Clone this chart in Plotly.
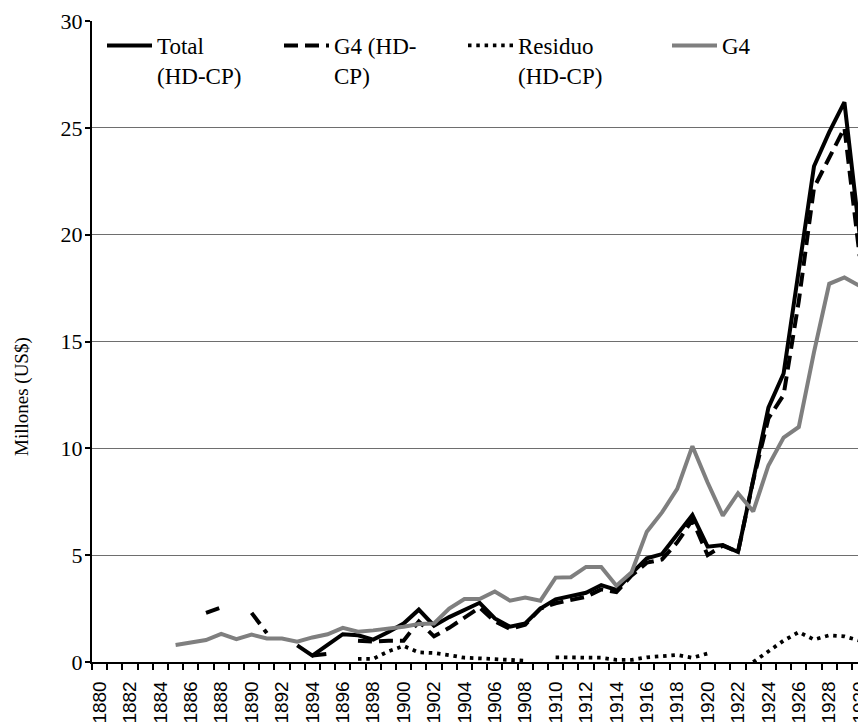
import plotly.graph_objects as go

years = list(range(1880, 1931))

total_hdcp = [None]*13 + [
    0.78, 0.30, 0.80, 1.30, 1.25, 1.05, 1.40, 1.80, 2.45, 1.70,   # 1893-1902
    2.10, 2.43, 2.77, 2.04, 1.65, 1.81, 2.50, 2.93, 3.08, 3.24,   # 1903-1912
    3.60, 3.37, 4.15, 4.85, 5.05, 5.95, 6.88, 5.40, 5.47, 5.15,   # 1913-1922
    8.50, 11.9, 13.5, 18.3, 23.2, 24.8, 26.2, 20.0]               # 1923-1930

g4_hdcp = [None]*7 + [
    2.30, 2.55, None, 2.30, 1.35, None, None,                     # 1887-1893
    0.30, 0.38, None, 1.00, 0.95, 1.00, 1.00, 1.90, 1.20,         # 1894-1902
    1.60, 2.10, 2.55, 1.90, 1.55, 1.75, 2.50, 2.75, 2.90, 3.05,   # 1903-1912
    3.40, 3.27, 4.05, 4.65, 4.80, 5.60, 6.65, 5.00, 5.45, 5.15,   # 1913-1922
    8.50, 11.4, 12.5, 16.9, 22.2, 23.6, 25.0, 19.0]               # 1923-1930

residuo_hdcp = [None]*17 + [
    0.15, 0.15, 0.50, 0.75, 0.45, 0.42,                           # 1897-1902
    0.32, 0.20, 0.17, 0.12, 0.10, 0.06, None, 0.22, 0.20, 0.20,   # 1903-1912
    0.20, 0.10, 0.10, 0.22, 0.28, 0.33, 0.20, 0.40, None, None,   # 1913-1922
    0.00, 0.50, 1.00, 1.40, 1.05, 1.25, 1.20, 1.00]               # 1923-1930

g4 = [None]*5 + [
    0.80, 0.92, 1.03, 1.32, 1.07, 1.28, 1.10, 1.10, 0.95, 1.15,   # 1885-1894
    1.30, 1.60, 1.42, 1.48, 1.55, 1.65, 1.78, 1.80,               # 1895-1902
    2.50, 2.95, 2.95, 3.30, 2.87, 3.02, 2.87, 3.95, 3.97, 4.45,   # 1903-1912
    4.45, 3.57, 4.20, 6.10, 7.00, 8.10, 10.1, 8.40, 6.85, 7.90,   # 1913-1922
    7.05, 9.20, 10.5, 11.0, 14.5, 17.7, 18.0, 17.6]               # 1923-1930

names = ["Total<br>(HD-CP)", "G4 (HD-<br>CP)", "Residuo<br>(HD-CP)", "G4"]
y_title = "Millones (US$)"
tick_years = list(range(1880, 1931, 2))

SERIF = "Liberation Serif"
SANS = "Liberation Sans"

# page has an 8px body margin: figure is placed at (8, 8)
OFF = 8
FIG_W, FIG_H = 866 - OFF, 727 - OFF
PLOT_L, PLOT_R, PLOT_T, PLOT_B = 92, 866, 21, 662  # page pixels
PW = PLOT_R - PLOT_L
PH = PLOT_B - PLOT_T

def px_x(p):
    return (p - PLOT_L) / PW

def px_y(p):
    return (PLOT_B - p) / PH

fig = go.Figure()
fig.add_trace(go.Scatter(x=years, y=total_hdcp, mode="lines", name=names[0],
                         line=dict(color="black", width=4), connectgaps=False,
                         legend="legend"))
fig.add_trace(go.Scatter(x=years, y=g4_hdcp, mode="lines", name=names[1],
                         line=dict(color="black", width=4, dash="14px,7px"), connectgaps=False,
                         legend="legend2"))
fig.add_trace(go.Scatter(x=years, y=residuo_hdcp, mode="lines", name=names[2],
                         line=dict(color="black", width=3.8, dash="3.5px,4.8px"), connectgaps=False,
                         legend="legend3"))
fig.add_trace(go.Scatter(x=years, y=g4, mode="lines", name=names[3],
                         line=dict(color="#7f7f7f", width=4), connectgaps=False,
                         legend="legend4"))
# empty helper trace so the label-only overlay axis is drawn
fig.add_trace(go.Scatter(x=years, y=[None]*len(years), yaxis="y2", mode="lines",
                         showlegend=False, hoverinfo="skip"))

leg_common = dict(orientation="v", xanchor="left", yanchor="top", y=px_y(24),
                  font=dict(family=SERIF, size=23, color="black"),
                  bgcolor="rgba(0,0,0,0)", borderwidth=0, valign="top",
                  itemwidth=45, tracegroupgap=0)

fig.update_layout(
    width=FIG_W, height=FIG_H,
    margin=dict(l=PLOT_L - OFF, r=0, t=PLOT_T - OFF, b=FIG_H - (PLOT_B - OFF),
                autoexpand=False),
    paper_bgcolor="white", plot_bgcolor="white",
    showlegend=True,
    legend=dict(x=px_x(102), **leg_common),
    legend2=dict(x=px_x(279), **leg_common),
    legend3=dict(x=px_x(463), **leg_common),
    legend4=dict(x=px_x(667), **leg_common),
    xaxis=dict(
        range=[1879.5, 1930.42], tickmode="array", tickvals=tick_years,
        ticktext=[str(y) for y in tick_years], tickangle=-90,
        ticks="outside", ticklen=10, tickcolor="rgba(0,0,0,0)",
        ticklabeloverflow="allow",
        tickfont=dict(family=SANS, size=19, color="black"),
        showline=True, linecolor="black", linewidth=1.5, showgrid=False,
        zeroline=False, automargin=False,
        minor=dict(tick0=0.5, dtick=1, ticks="outside", ticklen=6,
                   tickcolor="black", tickwidth=1.5, showgrid=False),
    ),
    yaxis=dict(
        range=[0, 30], dtick=5, ticks="outside", ticklen=5, tickcolor="black",
        tickwidth=1.5, showticklabels=False,
        showline=True, linecolor="black", linewidth=1.5,
        showgrid=True, gridcolor="#6e6e6e", gridwidth=1.2, zeroline=False,
        automargin=False,
    ),
    yaxis2=dict(
        range=[0, 30], dtick=5, overlaying="y", side="left",
        ticks="outside", ticklen=4, tickcolor="rgba(0,0,0,0)",
        tickfont=dict(family=SERIF, size=22, color="black"),
        showline=False, showgrid=False, zeroline=False, automargin=False,
    ),
    annotations=[dict(
        text=y_title, xref="paper", yref="paper", x=px_x(22), y=px_y(397),
        xanchor="center", yanchor="middle", textangle=-90, showarrow=False,
        font=dict(family=SERIF, size=19, color="black"),
    )],
)

fig.write_html("out.html")
